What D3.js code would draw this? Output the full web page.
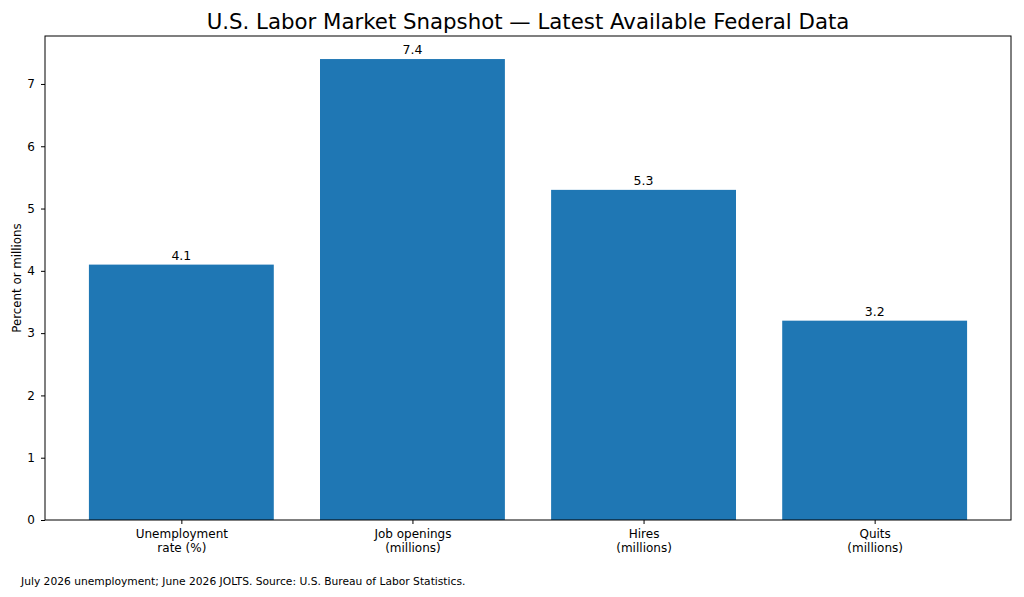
<!DOCTYPE html>
<html>
<head>
<meta charset="utf-8">
<style>
body { margin: 0; background: #fff; }
text { font-family: "DejaVu Sans", sans-serif; fill: #000; }
</style>
</head>
<body>
<script src="https://cdn.jsdelivr.net/npm/d3@7"></script>
<script>
var categories = [["Unemployment", "rate (%)"], ["Job openings", "(millions)"], ["Hires", "(millions)"], ["Quits", "(millions)"]];
var values = [4.1, 7.4, 5.3, 3.2];
var yTicks = [0, 1, 2, 3, 4, 5, 6, 7];
var title = "U.S. Labor Market Snapshot \u2014 Latest Available Federal Data";
var yLabel = "Percent or millions";
var note = "July 2026 unemployment; June 2026 JOLTS. Source: U.S. Bureau of Labor Statistics.";

var W = 1024, H = 597;
var m = {left: 45, right: 1011, top: 36, bottom: 520};

var svg = d3.select("body").append("svg").attr("width", W).attr("height", H);

var x = d3.scaleLinear().domain([-0.59, values.length - 1 + 0.59]).range([m.left, m.right]);
var y = d3.scaleLinear().domain([0, d3.max(values) * 1.05]).range([m.bottom, m.top]);
var bw = x(0.8) - x(0);

// bars
svg.selectAll("rect.bar").data(values).enter().append("rect")
  .attr("class", "bar")
  .attr("x", function(d, i) { return x(i) - bw / 2; })
  .attr("y", function(d) { return y(d); })
  .attr("width", bw)
  .attr("height", function(d) { return y(0) - y(d); })
  .attr("fill", "#1f77b4");

// value labels
svg.selectAll("text.val").data(values).enter().append("text")
  .attr("class", "val")
  .attr("x", function(d, i) { return x(i); })
  .attr("y", function(d) { return y(d) - 5; })
  .attr("text-anchor", "middle")
  .attr("font-size", "12.5px")
  .text(function(d) { return d.toFixed(1); });

// y axis
var yAxis = d3.axisLeft(y).tickValues(yTicks).tickSize(4).tickPadding(6).tickFormat(d3.format("d"));
var gy = svg.append("g").attr("transform", "translate(" + m.left + ",0)").call(yAxis);
gy.select(".domain").remove();
gy.selectAll("text").attr("font-size", "12px").attr("font-family", "DejaVu Sans").attr("fill", "#000");
gy.selectAll("line").attr("stroke", "#000");

// x axis
var xAxis = d3.axisBottom(x).tickValues(d3.range(values.length)).tickSize(4).tickFormat("");
var gx = svg.append("g").attr("transform", "translate(0," + m.bottom + ")").call(xAxis);
gx.select(".domain").remove();
gx.selectAll("line").attr("stroke", "#000");
gx.selectAll(".tick").each(function(d, i) {
  var t = d3.select(this).append("text")
    .attr("text-anchor", "middle")
    .attr("font-size", "12px")
    .attr("font-family", "DejaVu Sans")
    .attr("fill", "#000");
  categories[i].forEach(function(line, k) {
    t.append("tspan").attr("x", 0).attr("y", 18 + k * 13.8).text(line);
  });
});

// frame
svg.append("rect")
  .attr("x", m.left).attr("y", m.top)
  .attr("width", m.right - m.left).attr("height", m.bottom - m.top)
  .attr("fill", "none").attr("stroke", "#000").attr("stroke-width", 1);

// title
svg.append("text")
  .attr("x", (m.left + m.right) / 2).attr("y", 29)
  .attr("text-anchor", "middle").attr("font-size", "21.3px")
  .text(title);

// y label
svg.append("text")
  .attr("transform", "translate(21," + ((m.top + m.bottom) / 2) + ") rotate(-90)")
  .attr("text-anchor", "middle").attr("font-size", "11.8px")
  .text(yLabel);

// source note
svg.append("text")
  .attr("x", 21).attr("y", 585)
  .attr("font-size", "10.7px")
  .text(note);
</script>
</body>
</html>
